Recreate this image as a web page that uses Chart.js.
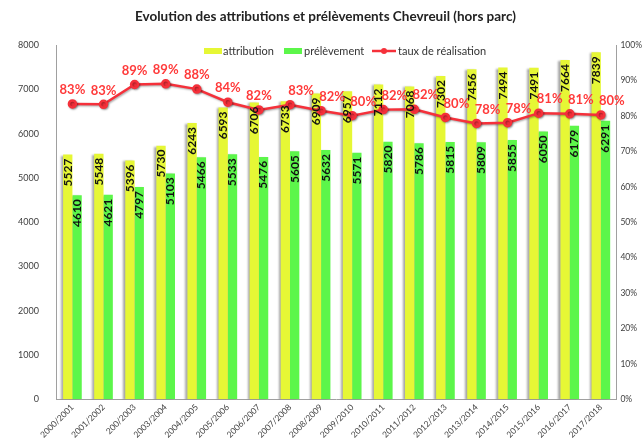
<!DOCTYPE html>
<html>
<head>
<meta charset="utf-8">
<script src="https://cdn.jsdelivr.net/npm/chart.js@4"></script>
<style>
  html, body { margin: 0; padding: 0; background: #fff; }
  #wrap { width: 643px; height: 443px; }
</style>
</head>
<body>
<div id="wrap"><canvas id="chart" width="643" height="443"></canvas></div>
<script>
let seasons = ['2000/2001','2001/2002','200/2003','2003/2004','2004/2005','2005/2006','2006/2007','2007/2008','2008/2009','2009/2010','2010/2011','2011/2012','2012/2013','2013/2014','2014/2015','2015/2016','2016/2017','2017/2018'];
let attribution = [5527,5548,5396,5730,6243,6593,6706,6733,6909,6957,7112,7068,7302,7456,7494,7491,7664,7839];
let prelevement = [4610,4621,4797,5103,5466,5533,5476,5605,5632,5571,5820,5786,5815,5809,5855,6050,6179,6291];
let taux = [83.4,83.3,88.9,89.1,87.6,83.9,81.7,83.2,81.5,80.1,81.8,81.9,79.6,77.9,78.1,80.8,80.6,80.3];

let yellow = '#e6f735';
let green = '#5cf64a';
let red = '#f5303a';
let fontName = "Lato, 'Open Sans', sans-serif";

// shadow under bars and line
let shadowPlugin = {
    id: 'shadow',
    beforeDatasetDraw(chart, args) {
        let ctx = chart.ctx;
        ctx.save();
        ctx.shadowColor = 'rgba(0,0,0,0.35)';
        ctx.shadowBlur = 2;
        ctx.shadowOffsetX = args.index < 2 ? -2 : 1;
        ctx.shadowOffsetY = 1;
    },
    afterDatasetDraw(chart) {
        chart.ctx.restore();
    }
};

// value labels + legend
let labelPlugin = {
    id: 'labels',
    afterDatasetsDraw(chart) {
        let ctx = chart.ctx;
        ctx.save();
        // rotated bar labels
        ctx.font = 'bold 12px ' + fontName;
        ctx.fillStyle = '#111';
        [0, 1].forEach(function (d) {
            let meta = chart.getDatasetMeta(d);
            meta.data.forEach(function (bar, i) {
                ctx.save();
                ctx.translate(bar.x, bar.y + 4);
                ctx.rotate(-Math.PI / 2);
                ctx.textAlign = 'right';
                ctx.textBaseline = 'middle';
                ctx.fillText(chart.data.datasets[d].data[i], 0, 0);
                ctx.restore();
            });
        });
        // percentage labels
        let meta = chart.getDatasetMeta(2);
        ctx.font = 'bold 13px ' + fontName;
        ctx.fillStyle = '#ff3a3a';
        ctx.textAlign = 'center';
        ctx.textBaseline = 'middle';
        meta.data.forEach(function (pt, i) {
            let dx = i >= 7 ? 11 : 0;
            ctx.fillText(Math.round(taux[i]) + '%', pt.x + dx, pt.y - 14);
        });

        // legend
        ctx.font = '11px ' + fontName;
        ctx.textAlign = 'left';
        ctx.textBaseline = 'middle';
        let ly = 51;
        ctx.fillStyle = yellow;
        ctx.fillRect(204, ly - 3, 18, 6);
        ctx.fillStyle = '#333';
        ctx.fillText('attribution', 223, ly);
        ctx.fillStyle = green;
        ctx.fillRect(284, ly - 3, 18, 6);
        ctx.fillStyle = '#333';
        ctx.fillText('prélèvement', 304, ly);
        ctx.strokeStyle = red;
        ctx.lineWidth = 2.5;
        ctx.beginPath();
        ctx.moveTo(372, ly);
        ctx.lineTo(396, ly);
        ctx.stroke();
        ctx.fillStyle = red;
        ctx.beginPath();
        ctx.arc(384, ly, 3, 0, Math.PI * 2);
        ctx.fill();
        ctx.fillStyle = '#333';
        ctx.fillText('taux de réalisation', 398, ly);
        ctx.restore();
    }
};

new Chart(document.getElementById('chart'), {
    type: 'bar',
    data: {
        labels: seasons,
        datasets: [
            {
                label: 'attribution',
                data: attribution,
                backgroundColor: yellow,
                yAxisID: 'y',
                categoryPercentage: 0.6,
                barPercentage: 1,
                order: 2
            },
            {
                label: 'prélèvement',
                data: prelevement,
                backgroundColor: green,
                yAxisID: 'y',
                categoryPercentage: 0.6,
                barPercentage: 1,
                order: 2
            },
            {
                type: 'line',
                label: 'taux de réalisation',
                data: taux,
                borderColor: red,
                backgroundColor: red,
                borderWidth: 2.5,
                pointRadius: 3.5,
                pointBackgroundColor: red,
                pointBorderColor: red,
                tension: 0,
                yAxisID: 'y1',
                order: 0
            }
        ]
    },
    options: {
        responsive: false,
        animation: false,
        layout: { padding: { left: 8, right: 0, top: 0, bottom: 0 } },
        plugins: {
            legend: { display: false },
            tooltip: { enabled: false },
            title: {
                display: true,
                text: 'Evolution des attributions et prélèvements Chevreuil (hors parc)',
                color: '#222',
                font: { family: fontName, size: 13.5, weight: 'bold' },
                padding: { top: 9, bottom: 20 }
            }
        },
        scales: {
            x: {
                grid: { display: false, drawTicks: false },
                border: { color: '#a0a0a0' },
                ticks: {
                    color: '#404040',
                    font: { family: fontName, size: 8.5 },
                    maxRotation: 45,
                    minRotation: 45,
                    autoSkip: false,
                    padding: 3
                }
            },
            y: {
                position: 'left',
                min: 0,
                max: 8000,
                grid: { display: false },
                border: { color: '#a0a0a0' },
                ticks: {
                    stepSize: 1000,
                    color: '#404040',
                    font: { family: fontName, size: 9 },
                    padding: 10,
                    callback: function (v) { return String(v); }
                }
            },
            y1: {
                position: 'right',
                min: 0,
                max: 100,
                grid: { display: false, drawTicks: true, tickLength: 3, color: '#a0a0a0' },
                border: { color: '#a0a0a0' },
                ticks: {
                    stepSize: 10,
                    color: '#404040',
                    font: { family: fontName, size: 8.5 },
                    padding: 1,
                    callback: function (v) { return v + '%'; }
                }
            }
        }
    },
    plugins: [shadowPlugin, labelPlugin]
});
</script>
</body>
</html>
